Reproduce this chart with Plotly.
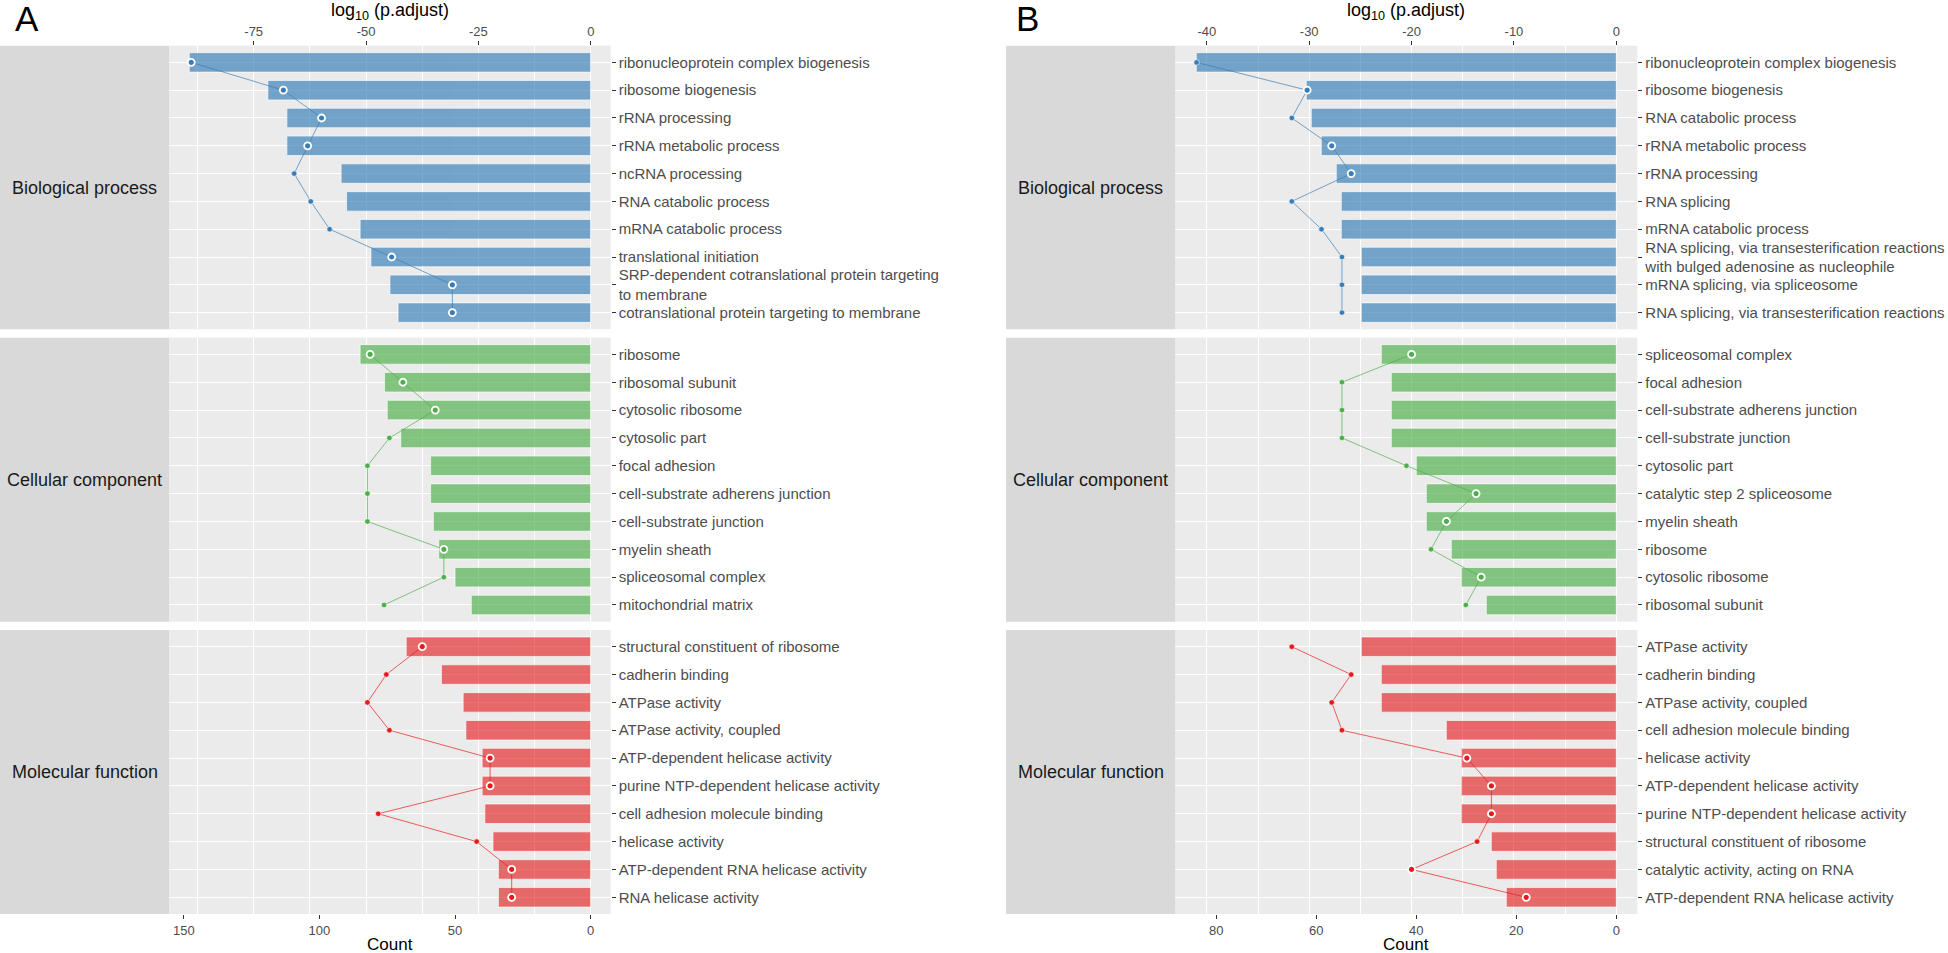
import plotly.graph_objects as go

W, H = 1948, 953

ONTOLOGIES = ["Biological process", "Cellular component", "Molecular function"]

# ---------------- Panel A ----------------
a_bp_terms = ["ribonucleoprotein complex biogenesis", "ribosome biogenesis", "rRNA processing",
              "rRNA metabolic process", "ncRNA processing", "RNA catabolic process",
              "mRNA catabolic process", "translational initiation",
              "SRP-dependent cotranslational protein targeting<br>to membrane",
              "cotranslational protein targeting to membrane"]
a_bp_count = [148, 119, 112, 112, 92, 90, 85, 81, 74, 71]
a_bp_logp = [-88.9, -68.4, -59.9, -63.0, -66.0, -62.3, -58.1, -44.3, -30.8, -30.8]
a_bp_ring = [1, 1, 1, 1, 0, 0, 0, 1, 1, 1]

a_cc_terms = ["ribosome", "ribosomal subunit", "cytosolic ribosome", "cytosolic part", "focal adhesion",
              "cell-substrate adherens junction", "cell-substrate junction", "myelin sheath",
              "spliceosomal complex", "mitochondrial matrix"]
a_cc_count = [85, 76, 75, 70, 59, 59, 58, 56, 50, 44]
a_cc_logp = [-49.1, -41.8, -34.6, -44.8, -49.7, -49.7, -49.7, -32.7, -32.7, -46.0]
a_cc_ring = [1, 1, 1, 0, 0, 0, 0, 1, 0, 0]

a_mf_terms = ["structural constituent of ribosome", "cadherin binding", "ATPase activity",
              "ATPase activity, coupled", "ATP-dependent helicase activity",
              "purine NTP-dependent helicase activity", "cell adhesion molecule binding",
              "helicase activity", "ATP-dependent RNA helicase activity", "RNA helicase activity"]
a_mf_count = [68, 55, 47, 46, 40, 40, 39, 36, 34, 34]
a_mf_logp = [-37.5, -45.5, -49.7, -44.8, -22.4, -22.4, -47.3, -25.4, -17.6, -17.6]
a_mf_ring = [1, 0, 0, 0, 1, 1, 0, 0, 1, 1]

# ---------------- Panel B ----------------
b_bp_terms = ["ribonucleoprotein complex biogenesis", "ribosome biogenesis", "RNA catabolic process",
              "rRNA metabolic process", "rRNA processing", "RNA splicing", "mRNA catabolic process",
              "RNA splicing, via transesterification reactions<br>with bulged adenosine as nucleophile",
              "mRNA splicing, via spliceosome", "RNA splicing, via transesterification reactions"]
b_bp_count = [84, 62, 61, 59, 56, 55, 55, 51, 51, 51]
b_bp_logp = [-41.0, -30.2, -31.7, -27.8, -25.9, -31.7, -28.8, -26.8, -26.8, -26.8]
b_bp_ring = [0, 1, 0, 1, 1, 0, 0, 0, 0, 0]

b_cc_terms = ["spliceosomal complex", "focal adhesion", "cell-substrate adherens junction",
              "cell-substrate junction", "cytosolic part", "catalytic step 2 spliceosome",
              "myelin sheath", "ribosome", "cytosolic ribosome", "ribosomal subunit"]
b_cc_count = [47, 45, 45, 45, 40, 38, 38, 33, 31, 26]
b_cc_logp = [-20.0, -26.8, -26.8, -26.8, -20.5, -13.7, -16.6, -18.1, -13.2, -14.7]
b_cc_ring = [1, 0, 0, 0, 0, 1, 1, 0, 1, 0]

b_mf_terms = ["ATPase activity", "cadherin binding", "ATPase activity, coupled",
              "cell adhesion molecule binding", "helicase activity", "ATP-dependent helicase activity",
              "purine NTP-dependent helicase activity", "structural constituent of ribosome",
              "catalytic activity, acting on RNA", "ATP-dependent RNA helicase activity"]
b_mf_count = [51, 47, 47, 34, 31, 31, 31, 25, 24, 22]
b_mf_logp = [-31.7, -25.9, -27.8, -26.8, -14.6, -12.2, -12.2, -13.6, -20.0, -8.8]
b_mf_ring = [0, 0, 0, 0, 1, 1, 1, 0, 1, 1]

count_ticks_a = [0, 50, 100, 150]
count_ticks_b = [0, 20, 40, 60, 80]
log_ticks_a = [-75, -50, -25, 0]
log_minor_a = [-87.5, -62.5, -37.5, -12.5]
log_ticks_b = [-40, -30, -20, -10, 0]
log_minor_b = [-35, -25, -15, -5]

panels = [
    dict(label="A", data=[(a_bp_terms, a_bp_count, a_bp_logp, a_bp_ring),
                          (a_cc_terms, a_cc_count, a_cc_logp, a_cc_ring),
                          (a_mf_terms, a_mf_count, a_mf_logp, a_mf_ring)],
         xpix=(169.2, 610.7), strip=(0.0, 169.2), count_range=[155.4, -7.4],
         log_range=[-93.8, 4.43], cticks=count_ticks_a, lticks=log_ticks_a, lminor=log_minor_a,
         letter_x=27),
    dict(label="B", data=[(b_bp_terms, b_bp_count, b_bp_logp, b_bp_ring),
                          (b_cc_terms, b_cc_count, b_cc_logp, b_cc_ring),
                          (b_mf_terms, b_mf_count, b_mf_logp, b_mf_ring)],
         xpix=(1175.3, 1637.3), strip=(1006.1, 1175.3), count_range=[88.2, -4.2],
         log_range=[-43.08, 2.05], cticks=count_ticks_b, lticks=log_ticks_b, lminor=log_minor_b,
         letter_x=1027),
]

ROWS_PIX = [(45.7, 329.3), (337.7, 621.7), (630.0, 914.0)]

LINE_COLORS = ["#377EB8", "#4DAF4A", "#E41A1C"]
BAR_COLORS = ["rgba(55,126,184,0.66)", "rgba(77,175,74,0.66)", "rgba(228,26,28,0.62)"]

PANEL_BG = "#EBEBEB"
STRIP_BG = "#D9D9D9"
FONT = "Liberation Sans, Arial, Helvetica, sans-serif"
AX_TXT = "#4D4D4D"


def fx(px):
    return px / W


def fy(py):
    return 1 - py / H


def ax(n):
    return "x" if n == 1 else f"x{n}"


def ay(n):
    return "y" if n == 1 else f"y{n}"


def axkey(n, letter):
    return f"{letter}axis" if n == 1 else f"{letter}axis{n}"


fig = go.Figure()
layout = {}
shapes = []
annotations = []

p = 0
for panel in panels:
    x0, x1 = panel["xpix"]
    for r, (terms, counts, logp, ring) in enumerate(panel["data"]):
        p += 1
        cx = 2 * p - 1
        lx = 2 * p
        yy = p
        ytop, ybot = ROWS_PIX[r]
        ydom = [fy(ybot), fy(ytop)]
        xdom = [fx(x0), fx(x1)]

        # bars (Count axis)
        fig.add_trace(go.Bar(
            x=counts, y=terms, orientation="h", base=0,
            width=0.7,
            marker=dict(color=BAR_COLORS[r], line=dict(color="rgba(255,255,255,0.8)", width=0.8)),
            xaxis=ax(cx), yaxis=ay(yy), showlegend=False, hoverinfo="x+y",
        ))
        # line through log10(p.adjust)
        fig.add_trace(go.Scatter(
            x=logp, y=terms, mode="lines",
            line=dict(color=LINE_COLORS[r], width=0.8),
            opacity=0.85,
            xaxis=ax(lx), yaxis=ay(yy), showlegend=False, hoverinfo="skip",
        ))
        small_x = [v for v, g in zip(logp, ring) if not g]
        small_y = [t for t, g in zip(terms, ring) if not g]
        big_x = [v for v, g in zip(logp, ring) if g]
        big_y = [t for t, g in zip(terms, ring) if g]
        fig.add_trace(go.Scatter(
            x=small_x, y=small_y, mode="markers",
            marker=dict(color=LINE_COLORS[r], size=5.5, line=dict(color="white", width=0.6)),
            xaxis=ax(lx), yaxis=ay(yy), showlegend=False,
        ))
        fig.add_trace(go.Scatter(
            x=big_x, y=big_y, mode="markers",
            marker=dict(color=LINE_COLORS[r], size=7, line=dict(color="white", width=1.8)),
            xaxis=ax(lx), yaxis=ay(yy), showlegend=False,
        ))

        bottom = (r == 2)
        top = (r == 0)
        xc_dict = dict(
            domain=xdom, anchor=ay(yy), range=panel["count_range"],
            showgrid=False, zeroline=False, showline=False,
            ticks="outside" if bottom else "", ticklen=4, tickcolor="#333333", tickwidth=1,
            showticklabels=bottom, tickfont=dict(size=13, color=AX_TXT, family=FONT),
            fixedrange=True,
        )
        if bottom:
            xc_dict.update(tickmode="array", tickvals=panel["cticks"],
                           ticktext=[str(v) for v in panel["cticks"]])
        layout[axkey(cx, "x")] = xc_dict
        layout[axkey(lx, "x")] = dict(
            overlaying=ax(cx), anchor=ay(yy), side="top", range=panel["log_range"],
            showgrid=True, gridcolor="white", gridwidth=1.1, zeroline=False, showline=False,
            tickmode="array", tickvals=panel["lticks"],
            ticktext=[str(v) for v in panel["lticks"]],
            ticks="outside" if top else "", ticklen=4, tickcolor="#333333", tickwidth=1,
            showticklabels=top, tickfont=dict(size=13, color=AX_TXT, family=FONT),
            minor=dict(tickvals=panel["lminor"], showgrid=True, gridcolor="white", gridwidth=0.55,
                       ticks=""),
            fixedrange=True,
        )
        layout[axkey(yy, "y")] = dict(
            domain=ydom, anchor=ax(cx), side="right", type="category",
            categoryorder="array", categoryarray=terms, range=[9.6, -0.6],
            showgrid=True, gridcolor="white", gridwidth=1.1, zeroline=False, showline=False,
            ticks="outside", ticklen=4, tickcolor="#333333", tickwidth=1,
            tickfont=dict(size=15, color=AX_TXT, family=FONT), fixedrange=True,
        )

        # strip
        s0, s1 = panel["strip"]
        shapes.append(dict(type="rect", xref="paper", yref="paper",
                           x0=fx(s0), x1=fx(s1), y0=fy(ybot), y1=fy(ytop),
                           fillcolor=STRIP_BG, line=dict(width=0), layer="below"))
        annotations.append(dict(text=ONTOLOGIES[r], xref="paper", yref="paper",
                                x=fx((s0 + s1) / 2), y=fy((ytop + ybot) / 2),
                                xanchor="center", yanchor="middle", showarrow=False,
                                font=dict(size=18, color="#1A1A1A", family=FONT)))

    # axis titles
    xc = fx((x0 + x1) / 2)
    annotations.append(dict(text="log<sub>10</sub> (p.adjust)", xref="paper", yref="paper",
                            x=xc, y=fy(12), xanchor="center", yanchor="middle", showarrow=False,
                            font=dict(size=18, color="#000000", family=FONT)))
    annotations.append(dict(text="Count", xref="paper", yref="paper",
                            x=xc, y=fy(944), xanchor="center", yanchor="middle", showarrow=False,
                            font=dict(size=17, color="#000000", family=FONT)))
    annotations.append(dict(text=panel["label"], xref="paper", yref="paper",
                            x=fx(panel["letter_x"]), y=fy(19), xanchor="center", yanchor="middle",
                            showarrow=False, font=dict(size=35, color="#000000", family=FONT)))

fig.update_layout(
    width=W, height=H, autosize=False,
    margin=dict(l=0, r=0, t=0, b=0),
    paper_bgcolor="white", plot_bgcolor=PANEL_BG,
    font=dict(family=FONT, color=AX_TXT),
    barmode="overlay", bargap=0.3,
    shapes=shapes, annotations=annotations, showlegend=False,
    **layout,
)

fig.write_html("out.html", config={"displayModeBar": False},
               post_script="document.body.style.margin='0';document.body.style.overflow='hidden';")
